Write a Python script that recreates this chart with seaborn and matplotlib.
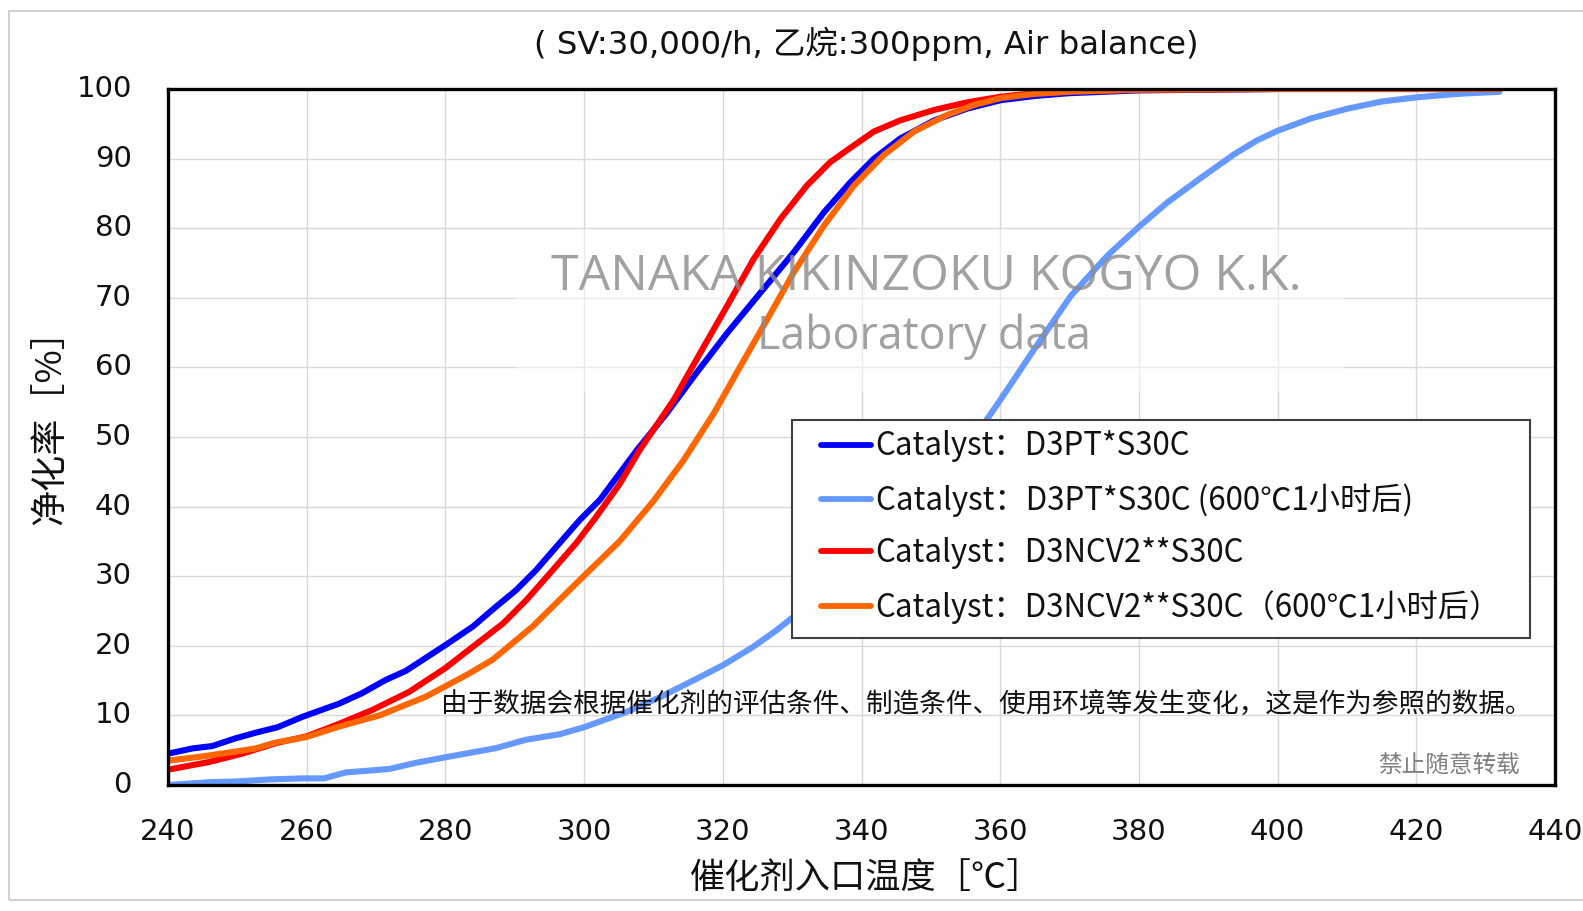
import numpy as np
import pandas as pd
import matplotlib
matplotlib.use("Agg")
import matplotlib.pyplot as plt
import matplotlib.transforms as mtransforms
import seaborn as sns
from matplotlib.patches import Rectangle
from matplotlib.lines import Line2D

# ---------------- data ----------------
labels = [
    "Catalyst：D3PT*S30C",
    "Catalyst：D3PT*S30C (600℃1小时后)",
    "Catalyst：D3NCV2**S30C",
    "Catalyst：D3NCV2**S30C（600℃1小时后）",
]
colors = ["#0000FF", "#6699FF", "#FF0000", "#FF6600"]

t_d3pt = [240, 243.5, 246.4, 249.7, 252.6, 255.8, 259.4, 264.7, 268, 271.4, 274.3, 280, 284,
          286.8, 290.2, 293.1, 296.5, 299.4, 302.3, 307.6, 311.9, 316.2, 320.6, 325.4, 330.2,
          334.6, 338.4, 341.8, 345.6, 350.5, 355.3, 360.1, 365, 370, 380, 390, 400, 432]
v_d3pt = [4.5, 5.25, 5.6, 6.7, 7.5, 8.3, 9.8, 11.7, 13.2, 15.1, 16.4, 20.1, 22.8,
          25.2, 28.0, 30.9, 34.8, 38.1, 41.0, 48.1, 53.4, 59.2, 64.9, 70.7, 76.5,
          82.3, 86.6, 90.0, 92.9, 95.5, 97.2, 98.4, 99.0, 99.4, 99.8, 99.9, 100, 100]

t_d3pt_aged = [240, 245.9, 249.7, 254.6, 259.4, 262.5, 265.6, 271.9, 275.8, 280.1, 287.3, 291.6,
               296.5, 300, 306.1, 310.9, 315.7, 320, 324.3, 327.7, 330.1, 335, 340, 345, 350,
               355, 358, 360, 364.9, 370.2, 375.6, 380, 384.1, 388.9, 393.7, 397, 400, 404.9,
               410.2, 415, 420, 426, 432]
v_d3pt_aged = [0, 0.4, 0.5, 0.8, 0.95, 0.95, 1.8, 2.3, 3.2, 4.0, 5.3, 6.5,
               7.3, 8.3, 10.5, 12.6, 15.0, 17.2, 19.8, 22.2, 24.1, 28.0, 32.5, 37.5, 43.0,
               48.5, 52.4, 55.3, 62.6, 70.3, 76.2, 80.2, 83.7, 87.2, 90.6, 92.6, 94.0, 95.8,
               97.2, 98.2, 98.8, 99.3, 99.6]

t_d3ncv2 = [240, 245.9, 250.7, 255.5, 260, 264.7, 269.5, 274.8, 280, 284, 288.3, 291.7, 295.5,
            298.9, 301.8, 305.1, 308, 312.9, 316.7, 320.6, 324.4, 328.3, 332.1, 335.5, 338.9,
            341.8, 345.6, 350.5, 355.3, 360.1, 365, 370, 380, 400, 432]
v_d3ncv2 = [2.2, 3.3, 4.5, 6.0, 7.0, 8.8, 10.8, 13.4, 16.8, 19.9, 23.2, 26.6, 30.9,
            34.8, 38.6, 43.2, 48.1, 55.3, 62.0, 68.8, 75.5, 81.3, 86.1, 89.5, 91.9,
            93.9, 95.5, 97.0, 98.1, 98.9, 99.4, 99.7, 99.9, 100, 100]

t_d3ncv2_aged = [240, 244.9, 249.7, 252.6, 255.5, 260, 264.7, 270.5, 277.2, 283.4, 286.8, 292.6,
                 298.9, 305.1, 310, 314.3, 318.7, 322.5, 326.4, 330.2, 334.6, 338.9, 343.2,
                 347.6, 352.4, 356.2, 360.1, 365, 370, 380, 400, 432]
v_d3ncv2_aged = [3.5, 4.1, 4.8, 5.25, 6.1, 6.9, 8.4, 10.0, 12.7, 16.0, 18.0, 22.8,
                 29.0, 35.0, 40.8, 46.6, 53.4, 60.1, 66.9, 73.6, 80.4, 86.1, 90.5,
                 93.9, 96.3, 97.7, 98.7, 99.3, 99.6, 99.9, 100, 100]

x_ticks = [240, 260, 280, 300, 320, 340, 360, 380, 400, 420, 440]
y_ticks = [0, 10, 20, 30, 40, 50, 60, 70, 80, 90, 100]

title = "( SV:30,000/h, 乙烷:300ppm, Air balance)"
xlabel = "催化剂入口温度［℃］"
ylabel = "净化率［%］"
watermark1 = "TANAKA KIKINZOKU KOGYO K.K."
watermark2 = "Laboratory data"
note = "由于数据会根据催化剂的评估条件、制造条件、使用环境等发生变化，这是作为参照的数据。"
copy_note = "禁止随意转载"

# ---------------- build long table ----------------
series = [(t_d3pt, v_d3pt), (t_d3pt_aged, v_d3pt_aged),
          (t_d3ncv2, v_d3ncv2), (t_d3ncv2_aged, v_d3ncv2_aged)]
frames = []
for lab, (t, v) in zip(labels, series):
    frames.append(pd.DataFrame({"T": t, "conv": v, "cat": lab}))
df = pd.concat(frames, ignore_index=True)

sns.set_theme(style="white")
plt.rcParams["font.family"] = ["DejaVu Sans", "Noto Sans CJK SC"]
CJK = ["Noto Sans CJK SC", "DejaVu Sans"]

W, H = 1583, 911
fig = plt.figure(figsize=(W / 100, H / 100), dpi=100)
L, R, T, B = 168, 1555, 89, 785
ax = fig.add_axes([L / W, 1 - B / H, (R - L) / W, (B - T) / H])


def fx(px):
    return px / W


def fy(py):
    return 1 - py / H


# outer light border
fig.patches.append(Rectangle((fx(9), fy(900)), fx(1600) - fx(9), fy(11) - fy(900),
                             transform=fig.transFigure, fill=False,
                             edgecolor="#c8c8c8", linewidth=1.2))

sns.lineplot(data=df, x="T", y="conv", hue="cat", hue_order=labels,
             palette=dict(zip(labels, colors)), estimator=None, sort=False,
             linewidth=4.4, ax=ax, legend=False, zorder=3)

ax.set_xlim(240, 440)
ax.set_ylim(0, 100)
ax.set_xticks(x_ticks)
ax.set_yticks(y_ticks)
ax.grid(True, color="#d9d9d9", linewidth=1.0, zorder=0)
ax.set_axisbelow(True)
for s in ax.spines.values():
    s.set_color("black")
    s.set_linewidth(2.4)
    s.set_zorder(6)
ax.tick_params(axis="both", direction="in", length=8, width=1.0, color="#595959",
               labelsize=21, labelcolor="#111111")
ax.tick_params(axis="y", pad=26)
ax.tick_params(axis="x", pad=24)
for lab in ax.get_xticklabels() + ax.get_yticklabels():
    lab.set_family("DejaVu Sans")
shift_up = mtransforms.ScaledTranslation(0, 3 / 100, fig.dpi_scale_trans)
for lab in ax.get_yticklabels():
    lab.set_transform(lab.get_transform() + shift_up)

ax.set_xlabel("")
ax.set_ylabel("")

renderer = fig.canvas.get_renderer()


def fit_text(txt, target_px):
    w = txt.get_window_extent(renderer=renderer).width
    txt.set_fontsize(txt.get_fontsize() * target_px / w)


xl = fig.text(fx(866), fy(878), xlabel, ha="center", va="center", fontsize=27,
              family=CJK, color="#111111")
fit_text(xl, 352)
yl = fig.text(fx(50), fy(418), ylabel, ha="center", va="center", fontsize=26,
              family=CJK, rotation=90, color="#111111")
tt = fig.text(fx(866), fy(44), title, ha="center", va="center", fontsize=23,
              family=["DejaVu Sans", "Noto Sans CJK SC"], color="#111111")
fit_text(tt, 664)

# watermark: faded panel + gray text
ax.add_patch(Rectangle((fx(515), fy(392)), fx(1345) - fx(515), fy(230) - fy(392),
                       transform=fig.transFigure, facecolor="white", alpha=0.45,
                       edgecolor="none", zorder=1))
w1 = fig.text(fx(926), fy(277), watermark1, ha="center", va="center", fontsize=34,
              family="Open Sans", color="#8a8a8a", alpha=0.8, zorder=10)
w2 = fig.text(fx(924), fy(337), watermark2, ha="center", va="center", fontsize=34,
              family="Open Sans", color="#8a8a8a", alpha=0.8, zorder=10)
fit_text(w1, 752)
fit_text(w2, 334)

# notes
n1 = fig.text(fx(441), fy(705), note, ha="left", va="center", fontsize=18,
              family=CJK, color="#111111", zorder=10)
fit_text(n1, 1090)
n2 = fig.text(fx(1520), fy(765), copy_note, ha="right", va="center", fontsize=16,
              family=CJK, color="#7f7f7f", zorder=10)
fit_text(n2, 142)

# legend frame + legend
ax.add_patch(Rectangle((fx(792), fy(638)), fx(1530) - fx(792), fy(420) - fy(638),
                       transform=fig.transFigure, facecolor="white",
                       edgecolor="#404040", linewidth=1.5, zorder=7))
handles = [Line2D([], [], color=c, linewidth=4.2, solid_capstyle="round") for c in colors]
leg = ax.legend(handles, labels, loc="center left",
                bbox_to_anchor=(fx(821), fy(527)), bbox_transform=fig.transFigure,
                frameon=False, prop={"family": CJK, "size": 22.5},
                handlelength=1.6, handletextpad=0.15, labelspacing=0.66,
                borderpad=0, borderaxespad=0)
leg.set_zorder(8)
for t in leg.get_texts():
    t.set_color("#111111")

fig.savefig("out.png", dpi=100, facecolor="white")
